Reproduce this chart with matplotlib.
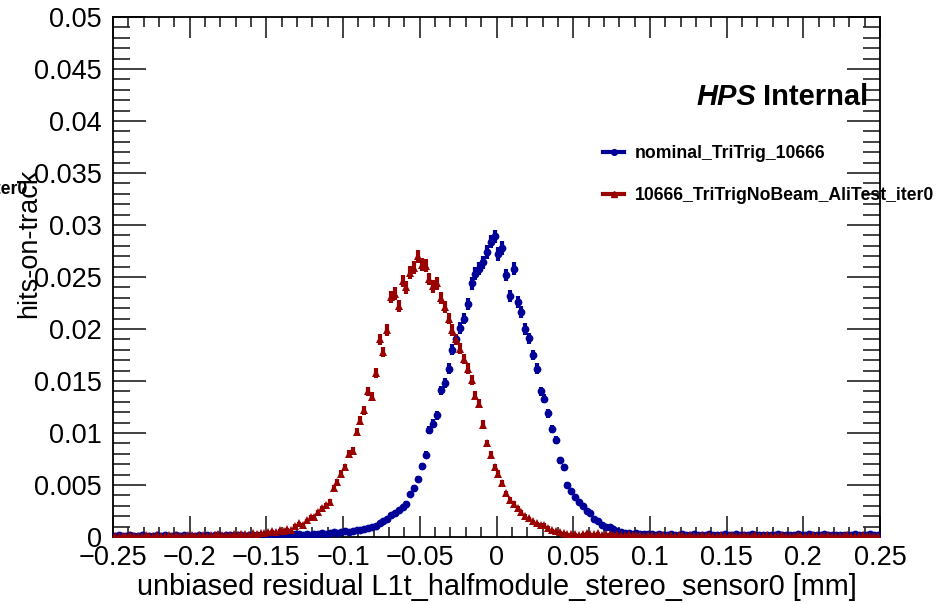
#!/usr/bin/python3
#
# Hits-on-track residual for L1t stereo sensor0: nominal vs. no-beam alignment test.

import matplotlib

matplotlib.use("Agg")
import matplotlib.pyplot as plt
import matplotlib.ticker as ticker
import numpy as np
from matplotlib.lines import Line2D

plt.rcParams["font.family"] = ["Liberation Sans", "DejaVu Sans"]

x_min, x_max = -0.25, 0.25
n_bins = 200

# Fraction of hits per 0.0025 mm bin, one row per 0.025 mm.
nominal_vals = [
    0.0001, 0.0002, 0.0001, 0.0001, 0.0002, 0.0001, 0.0001, 0.0002, 0.0001, 0.0001,
    0.0001, 0.0002, 0.0001, 0.0002, 0.0001, 0.0001, 0.0002, 0.0001, 0.0002, 0.0001,
    0.0001, 0.0001, 0.0002, 0.0001, 0.0002, 0.0001, 0.0002, 0.0002, 0.0001, 0.0002,
    0.0002, 0.0001, 0.0002, 0.0002, 0.0001, 0.0002, 0.0002, 0.0002, 0.0001, 0.0002,
    0.0002, 0.0002, 0.0002, 0.0002, 0.0003, 0.0002, 0.0002, 0.0003, 0.0003, 0.0002,
    0.0003, 0.0002, 0.0003, 0.0003, 0.0004, 0.0003, 0.0004, 0.0005, 0.0004, 0.0005,
    0.0006, 0.0005, 0.0006, 0.0007, 0.0007, 0.0008, 0.0009, 0.0010, 0.0011, 0.0013,
    0.0015, 0.0017, 0.0021, 0.0023, 0.0026, 0.0029, 0.0032, 0.0041, 0.0047, 0.0056,
    0.0068, 0.0079, 0.0103, 0.0109, 0.0117, 0.0141, 0.0148, 0.0162, 0.0180, 0.0190,
    0.0201, 0.0210, 0.0224, 0.0244, 0.0253, 0.0258, 0.0264, 0.0274, 0.0284, 0.0289,
    0.0272, 0.0278, 0.0252, 0.0232, 0.0258, 0.0226, 0.0216, 0.0200, 0.0191, 0.0175,
    0.0162, 0.0140, 0.0133, 0.0119, 0.0104, 0.0093, 0.0074, 0.0067, 0.0050, 0.0044,
    0.0038, 0.0034, 0.0030, 0.0025, 0.0023, 0.0017, 0.0015, 0.0012, 0.0010, 0.0010,
    0.0008, 0.0006, 0.0005, 0.0004, 0.0004, 0.0003, 0.0004, 0.0003, 0.0003, 0.0003,
    0.0003, 0.0002, 0.0003, 0.0002, 0.0002, 0.0003, 0.0002, 0.0002, 0.0003, 0.0002,
    0.0002, 0.0003, 0.0002, 0.0002, 0.0002, 0.0003, 0.0002, 0.0002, 0.0002, 0.0003,
    0.0002, 0.0002, 0.0003, 0.0002, 0.0002, 0.0002, 0.0003, 0.0002, 0.0002, 0.0002,
    0.0002, 0.0002, 0.0002, 0.0003, 0.0002, 0.0002, 0.0002, 0.0002, 0.0003, 0.0002,
    0.0002, 0.0003, 0.0002, 0.0002, 0.0002, 0.0003, 0.0002, 0.0002, 0.0002, 0.0002,
    0.0002, 0.0002, 0.0002, 0.0003, 0.0002, 0.0002, 0.0002, 0.0003, 0.0002, 0.0002,
]

nobeam_vals = [
    0.0001, 0.0001, 0.0001, 0.0001, 0.0002, 0.0001, 0.0001, 0.0001, 0.0002, 0.0001,
    0.0001, 0.0002, 0.0001, 0.0001, 0.0002, 0.0001, 0.0002, 0.0001, 0.0001, 0.0002,
    0.0002, 0.0001, 0.0002, 0.0002, 0.0001, 0.0002, 0.0002, 0.0003, 0.0002, 0.0002,
    0.0002, 0.0003, 0.0002, 0.0003, 0.0003, 0.0002, 0.0004, 0.0003, 0.0004, 0.0004,
    0.0005, 0.0006, 0.0005, 0.0007, 0.0006, 0.0008, 0.0007, 0.0011, 0.0013, 0.0012,
    0.0016, 0.0019, 0.0019, 0.0024, 0.0028, 0.0031, 0.0034, 0.0047, 0.0053, 0.0061,
    0.0067, 0.0080, 0.0083, 0.0101, 0.0112, 0.0122, 0.0140, 0.0135, 0.0158, 0.0190,
    0.0178, 0.0199, 0.0231, 0.0234, 0.0222, 0.0246, 0.0240, 0.0254, 0.0259, 0.0270,
    0.0262, 0.0261, 0.0248, 0.0241, 0.0244, 0.0230, 0.0221, 0.0210, 0.0199, 0.0190,
    0.0181, 0.0171, 0.0162, 0.0151, 0.0136, 0.0128, 0.0108, 0.0090, 0.0079, 0.0067,
    0.0061, 0.0052, 0.0042, 0.0036, 0.0032, 0.0028, 0.0024, 0.0020, 0.0018, 0.0015,
    0.0013, 0.0012, 0.0012, 0.0009, 0.0007, 0.0006, 0.0005, 0.0004, 0.0003, 0.0003,
    0.0003, 0.0002, 0.0003, 0.0004, 0.0003, 0.0003, 0.0004, 0.0002, 0.0003, 0.0003,
    0.0002, 0.0003, 0.0002, 0.0002, 0.0003, 0.0002, 0.0002, 0.0002, 0.0001, 0.0002,
    0.0002, 0.0001, 0.0002, 0.0002, 0.0001, 0.0002, 0.0001, 0.0002, 0.0002, 0.0001,
    0.0002, 0.0001, 0.0001, 0.0002, 0.0001, 0.0002, 0.0001, 0.0001, 0.0002, 0.0001,
    0.0001, 0.0002, 0.0001, 0.0001, 0.0002, 0.0001, 0.0001, 0.0002, 0.0001, 0.0001,
    0.0002, 0.0001, 0.0001, 0.0001, 0.0002, 0.0001, 0.0001, 0.0001, 0.0002, 0.0001,
    0.0001, 0.0001, 0.0002, 0.0001, 0.0001, 0.0001, 0.0002, 0.0001, 0.0001, 0.0001,
    0.0001, 0.0002, 0.0001, 0.0001, 0.0001, 0.0002, 0.0001, 0.0001, 0.0001, 0.0001,
]

series = [
    ("nominal_TriTrig_10666", nominal_vals, "#000099", "o", 5.6),
    ("10666_TriTrigNoBeam_AliTest_iter0", nobeam_vals, "#990000", "^", 6.2),
]

edges = np.linspace(x_min, x_max, n_bins + 1)
centers = 0.5 * (edges[:-1] + edges[1:])


def fmt_tick(v, pos=None):
    v = round(v, 4)
    if v == 0:
        return "0"
    return f"{v:g}".replace("-", "\u2212")


fig = plt.figure(figsize=(9.45, 6.04), dpi=100)
ax = fig.add_axes([113 / 945, 67 / 604, 767 / 945, 520 / 604])

handles = []
for (label, vals, color, marker, ms) in series:
    vals = np.array(vals)
    # Poisson-like bar, fraction scale
    err = np.sqrt(vals * 1.5e-5)
    ax.errorbar(
        centers, vals, yerr=err, fmt=marker, color=color, ms=ms,
        mew=0, elinewidth=3, capsize=0, zorder=3,
    )
    handles.append(Line2D([], [], color=color, lw=3, marker=marker, ms=ms - 1.5))

ax.set_xlim(x_min, x_max)
ax.set_ylim(0, 0.05)

ax.xaxis.set_major_locator(ticker.MultipleLocator(0.05))
ax.xaxis.set_minor_locator(ticker.MultipleLocator(0.01))
ax.yaxis.set_major_locator(ticker.MultipleLocator(0.005))
ax.yaxis.set_minor_locator(ticker.MultipleLocator(0.001))
ax.xaxis.set_major_formatter(ticker.FuncFormatter(fmt_tick))
ax.yaxis.set_major_formatter(ticker.FuncFormatter(fmt_tick))

ax.tick_params(axis="both", which="both", direction="in", top=True, right=True, width=1.2, color="#222222")
ax.tick_params(axis="x", which="major", length=15, labelsize=19.5, pad=6)
ax.tick_params(axis="x", which="minor", length=7.5)
ax.tick_params(axis="y", which="major", length=24, labelsize=19.5, pad=8)
ax.tick_params(axis="y", which="minor", length=12)
for s in ax.spines.values():
    s.set_linewidth(1.3)

ax.set_xlabel("unbiased residual L1t_halfmodule_stereo_sensor0 [mm]", fontsize=20.8, labelpad=1)
fig.text(42 / 945, 1 - 243 / 604, "hits-on-track", rotation=90, ha="right", va="center", fontsize=19.5)
fig.text(28 / 945, 1 - 190 / 604, "10666_TriTrigNoBeam_AliTest_iter0", ha="right", va="center",
         fontsize=12.7, fontweight="bold")

# "HPS" bold italic, "Internal" bold, right edge near the frame
t_int = ax.text(0.985, 0.83, "Internal", transform=ax.transAxes, ha="right", va="baseline",
                fontsize=21, fontweight="bold")
renderer = fig.canvas.get_renderer()
bb = t_int.get_window_extent(renderer=renderer).transformed(ax.transAxes.inverted())
ax.text(bb.x0 - 0.009, 0.83, "HPS", transform=ax.transAxes, ha="right", va="baseline",
        fontsize=21, fontweight="bold", fontstyle="italic")

ax.legend(
    handles, [s[0] for s in series], loc="upper left",
    bbox_to_anchor=(603 / 945, 1 - 145 / 604), bbox_transform=fig.transFigure,
    frameon=False, borderpad=0, borderaxespad=0, handlelength=1.2, handletextpad=0.6,
    labelspacing=1.4, prop={"weight": "bold", "size": 12.7},
)

plt.savefig("out.png", dpi=100)
